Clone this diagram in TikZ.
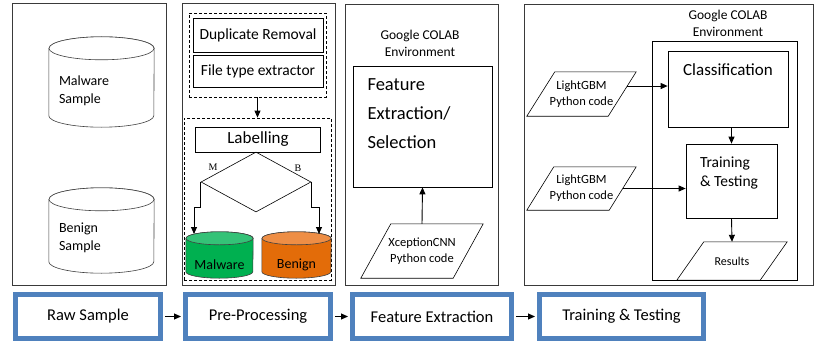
\documentclass[tikz,border=0pt]{standalone}
\usepackage{fontspec}
\setmainfont{Carlito}
\newfontfamily\edgefont{Liberation Serif}
\usepackage{tikz}
\usetikzlibrary{positioning}
\usetikzlibrary{calc,shapes.geometric,arrows.meta}

\definecolor{stageblue}{HTML}{4F81BD}
\definecolor{malgreen}{HTML}{00B050}
\definecolor{malgreentop}{HTML}{34C277}
\definecolor{benorange}{HTML}{E36C09}
\definecolor{benorangetop}{HTML}{EE8E45}
\definecolor{framegray}{HTML}{3A3A3A}

% a drum drawn round a (plain) node: node, half width, end radius, body style, lid style
\newcommand{\dbcan}[5]{%
    \path[#4] ([yshift=-#3]#1.north west) -- ([yshift=#3]#1.south west)
        arc[start angle=180,end angle=360,x radius=#2,y radius=#3]
        -- ([yshift=-#3]#1.north east)
        arc[start angle=0,end angle=180,x radius=#2,y radius=#3] -- cycle;
    \path[#5] ([yshift=-#3]#1.north) ellipse[x radius=#2,y radius=#3];
}
% slanted data box round a (plain) node: node, slant; corners are kept as <node>-nw etc.
\newcommand{\ioframe}[2]{%
    \draw[line width=0.6pt] ([xshift=#2]#1.north west) coordinate (#1-nw)
        -- (#1.north east) coordinate (#1-ne)
        -- ([xshift=-#2]#1.south east) coordinate (#1-se)
        -- (#1.south west) coordinate (#1-sw) -- cycle;
}

\begin{document}
\begin{tikzpicture}[x=1pt,y=-1pt,>={Triangle[length=7pt,width=6pt]},
    panel/.style={draw=framegray,line width=0.8pt},
    box/.style={draw,line width=0.7pt,inner sep=0pt},
    dashbox/.style={draw,line width=0.8pt,dash pattern=on 3pt off 2pt,inner sep=0pt},
    io/.style={rectangle,inner sep=0pt,align=center,font=\fontsize{12.5}{16}\selectfont},
    db/.style={rectangle,inner sep=0pt},
    dbline/.style={draw=black!75,line width=0.6pt},
    dbtext/.style={align=left,font=\fontsize{14}{18}\selectfont},
    stage/.style={draw=stageblue,line width=4pt,minimum height=45pt,
        font=\fontsize{16.5}{20}\selectfont},
    flow/.style={->,line width=1pt,shorten >=2pt,shorten <=2pt}]

    \path[use as bounding box,fill=white] (0,0) rectangle (816,345);

    % the four column frames
    \draw[panel] (12,3) rectangle (166,285);
    \draw[panel] (182,3) rectangle (335,285);
    \draw[panel] (345,4) rectangle (498,285);
    \draw[panel] (524,4) rectangle (813,285);

    % raw samples
    \node[db,minimum width=105pt,minimum height=90pt] (mws) at (101.5,82) {};
    \dbcan{mws}{52.5pt}{11.5pt}{dbline,fill=white}{dbline,fill=white}
    \node[dbtext,text width=85pt] (mwst) at ($(mws.center)+(0,9)$) {Malware\\Sample};
    \node[db,minimum width=105pt,minimum height=85pt] (bns) at (101.5,230.5) {};
    \dbcan{bns}{52.5pt}{11.5pt}{dbline,fill=white}{dbline,fill=white}
    \node[dbtext,text width=85pt] (bnst) at ($(bns.center)+(0,7)$) {Benign\\Sample};

    % pre-processing
    \node[dashbox,minimum width=137pt,minimum height=84pt] (clean) at (257.5,55) {};
    \node[box,minimum width=130pt,minimum height=34pt,font=\fontsize{15.5}{18}\selectfont]
        (dup) at (258,35) {Duplicate Removal};
    \node[box,minimum width=130pt,minimum height=32pt,font=\fontsize{15.5}{18}\selectfont]
        (ftype) at (258,71) {File type extractor};
    \node[dashbox,minimum width=147pt,minimum height=162pt] (sort) at (257.5,199) {};
    \node[box,minimum width=125pt,minimum height=25pt,font=\fontsize{17}{20}\selectfont]
        (lab) at (258,139.5) {Labelling};
    \node[diamond,draw,line width=0.6pt,inner sep=0pt,aspect=1.83,
        minimum width=110pt,minimum height=60pt] (dec) at (256,182) {};
    \node[font=\edgefont\fontsize{10}{12}\selectfont] (mlab) at (213,167) {M};
    \node[font=\edgefont\fontsize{10}{12}\selectfont] (blab) at (298,168) {B};
    \node[db,minimum width=67pt,minimum height=46pt] (mal) at (219.5,255) {};
    \dbcan{mal}{33.5pt}{6.5pt}{dbline,fill=malgreen}{dbline,fill=malgreentop}
    \node[db,minimum width=69pt,minimum height=46pt] (ben) at (296.5,255) {};
    \dbcan{ben}{34.5pt}{6.5pt}{dbline,fill=benorange}{dbline,fill=benorangetop}
    \node[dbtext] (malt) at ($(mal.center)+(0,10)$) {Malware};
    \node[dbtext] (bent) at ($(ben.center)+(0,10)$) {Benign};
    \coordinate (malin) at (194,234);
    \coordinate (benin) at (319,234);

    \draw[->,line width=0.9pt] (clean.south) -- (sort.north);
    \draw[->,line width=0.9pt] (dec.west) -- ++(0,25) -| (malin);
    \draw[->,line width=0.9pt] (dec.east) -- ++(0,25) -| (benin);

    % feature extraction
    \node[align=center,font=\fontsize{13.5}{17}\selectfont] (env1) at (420,43)
        {Google COLAB\\Environment};
    \node[box,minimum width=139pt,minimum height=121pt] (fes) at (422.5,126.5) {};
    \node[anchor=west,align=left,font=\fontsize{18.5}{29}\selectfont] (fest) at (364,114)
        {Feature\\Extraction/\\Selection};
    \node[io,minimum width=122pt,minimum height=54pt] (xcp) at (422,251)
        {XceptionCNN\\Python code};
    \ioframe{xcp}{30pt}
    \draw[->,line width=0.9pt] (xcp.north) -- (fes.south);

    % training and testing
    \node[align=center,font=\fontsize{13.5}{17}\selectfont] (env2) at (728,23)
        {Google COLAB\\Environment};
    \draw[box] (652,41) rectangle (797,280);
    \node[box,minimum width=120pt,minimum height=76pt] (cls) at (728,89) {};
    \node[font=\fontsize{17}{20}\selectfont] (clst) at (728,70) {Classification};
    \node[box,minimum width=91pt,minimum height=74pt] (tt) at (731.5,181) {};
    \node[align=left,font=\fontsize{15.5}{19}\selectfont] (ttt) at (729,172.5)
        {Training\\\& Testing};
    \node[io,minimum width=109pt,minimum height=44pt] (lg1) at (581.5,94)
        {LightGBM\\Python code};
    \ioframe{lg1}{28pt}
    \node[io,minimum width=109pt,minimum height=43pt] (lg2) at (581.5,188.5)
        {LightGBM\\Python code};
    \ioframe{lg2}{27pt}
    \node[io,minimum width=110pt,minimum height=38pt,font=\fontsize{12}{14}\selectfont]
        (res) at (732,261) {Results};
    \ioframe{res}{27pt}

    \coordinate (lg1out) at ($(lg1-ne)!0.32!(lg1-se)$);
    \coordinate (lg2out) at ($(lg2-ne)!0.5!(lg2-se)$);
    \draw[->,line width=0.9pt] (lg1out) -- (lg1out -| cls.west);
    \draw[->,line width=0.9pt] (lg2out) -- (lg2out -| tt.west);
    \draw[->,line width=0.9pt] (cls.south -| tt.north) -- (tt.north);
    \draw[->,line width=0.9pt] (tt.south) -- (res.north);

    % stages along the bottom
    \node[stage,minimum width=146pt] (raw) at (88,316.5) {Raw Sample};
    \node[stage,minimum width=146pt] (pre) at (258,316.5) {Pre-Processing};
    \node[stage,minimum width=160pt] (fex) at (432,316.5) {Feature Extraction};
    \node[stage,minimum width=165pt] (trn) at (621.5,316.5) {Training \& Testing};
    \foreach \s in {raw,pre,fex,trn}
        \draw[stageblue,line width=0.7pt] ([shift={(4.5,4.5)}]\s.north west)
            rectangle ([shift={(-4.5,-4.5)}]\s.south east);

    \draw[flow] (raw) -- (pre);
    \draw[flow] (pre) -- (fex);
    \draw[flow] (fex) -- (trn);
\end{tikzpicture}
\end{document}
